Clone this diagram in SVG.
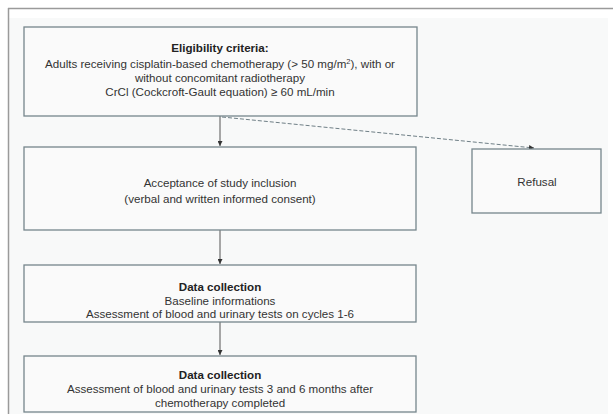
<svg xmlns="http://www.w3.org/2000/svg" width="613" height="414" viewBox="0 0 613 414">
<defs>
<style>
.box{fill:#fafafa;stroke:#76868c;stroke-width:1.3}
.t{font-family:"Liberation Sans",Arial,sans-serif;font-size:11.6px;fill:#333;text-anchor:middle}
.b{font-weight:bold;fill:#222}
.c{stroke:#555;stroke-width:1;fill:none}
.d{stroke:#6f7f86;stroke-width:1;fill:none;stroke-dasharray:4 2}
</style>
<marker id="ah" viewBox="0 0 10 10" refX="10" refY="5" markerWidth="5" markerHeight="5" orient="auto" markerUnits="userSpaceOnUse">
<path d="M0,0 L10,5 L0,10 z" fill="#333"/>
</marker>
</defs>
<rect x="0" y="0" width="613" height="414" fill="#ffffff"/>
<rect x="9" y="18" width="599" height="396" fill="#f8f9f9"/>
<path d="M8,8.5 H613 M8.5,8 V414" stroke="#9a9a9a" stroke-width="1.5" fill="none"/>
<g id="connectors">
<path class="c" d="M220,116 V146" marker-end="url(#ah)"/>
<path class="d" d="M222,117 L534,148" marker-end="url(#ah)"/>
<path class="c" d="M220,230 V264" marker-end="url(#ah)"/>
<path class="c" d="M220,322 V355" marker-end="url(#ah)"/>
</g>
<g id="eligibility">
<rect class="box" x="24" y="27" width="393" height="89"/>
<text class="t b" x="220" y="52">Eligibility criteria:</text>
<text class="t" x="220" y="68">Adults receiving cisplatin-based chemotherapy (&gt; 50 mg/m<tspan font-size="7.5" dy="-4">2</tspan><tspan dy="4">), with or</tspan></text>
<text class="t" x="220" y="82">without concomitant radiotherapy</text>
<text class="t" x="220" y="96">CrCl (Cockcroft-Gault equation) ≥ 60 mL/min</text>
</g>
<g id="acceptance">
<rect class="box" x="24" y="147" width="392" height="83"/>
<text class="t" x="220" y="187">Acceptance of study inclusion</text>
<text class="t" x="220" y="203">(verbal and written informed consent)</text>
</g>
<g id="refusal">
<rect class="box" x="472" y="149" width="129" height="64"/>
<text class="t" x="537" y="186">Refusal</text>
</g>
<g id="data1">
<rect class="box" x="24" y="265" width="392" height="57"/>
<text class="t b" x="220" y="291">Data collection</text>
<text class="t" x="220" y="305">Baseline informations</text>
<text class="t" x="220" y="318">Assessment of blood and urinary tests on cycles 1-6</text>
</g>
<g id="data2">
<rect class="box" x="24" y="356" width="392" height="56"/>
<text class="t b" x="220" y="379">Data collection</text>
<text class="t" x="220" y="393">Assessment of blood and urinary tests 3 and 6 months after</text>
<text class="t" x="220" y="407">chemotherapy completed</text>
</g>
</svg>
